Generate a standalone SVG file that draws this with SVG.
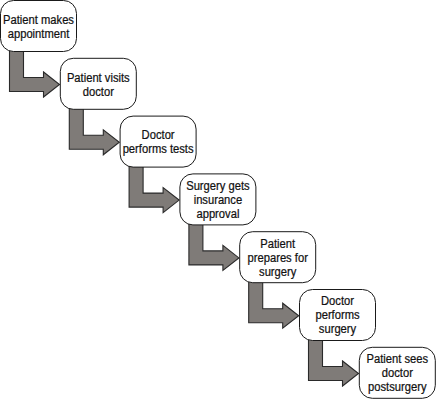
<svg xmlns="http://www.w3.org/2000/svg" width="436" height="400" viewBox="0 0 436 400">
<style>
.box{fill:#fff;stroke:#1a1a1a;stroke-width:1}
.arr{fill:#7f7b78;stroke:#2a2a2a;stroke-width:1.1;stroke-linejoin:miter}
text{font-family:"Liberation Sans",Arial,sans-serif;font-size:13.5px;fill:#111;stroke:#111;stroke-width:0.25;text-anchor:middle}
</style>
<defs>
<path id="bent" d="M9,50 H23 V77 H43 V71.5 L59,84 L43,96.5 V91 H9 Z"/>
</defs>
<rect width="436" height="400" fill="#fff"/>
<g id="connectors">
<use href="#bent" class="arr" x="0.5" y="0.5"/>
<use href="#bent" class="arr" x="60.3" y="58.3"/>
<use href="#bent" class="arr" x="120.1" y="116.1"/>
<use href="#bent" class="arr" x="179.9" y="173.9"/>
<use href="#bent" class="arr" x="239.7" y="231.7"/>
<use href="#bent" class="arr" x="299.5" y="289.5"/>
</g>
<g id="n1"><rect class="box" x="0.5" y="0.5" width="76" height="51" rx="13"/><g transform="translate(38.5 0) scale(0.83 1)"><text x="0" y="23.8">Patient makes</text><text x="0" y="37.8">appointment</text></g></g>
<g id="n2"><rect class="box" x="60.3" y="58.3" width="76" height="51" rx="13"/><g transform="translate(98.3 0) scale(0.83 1)"><text x="0" y="81.6">Patient visits</text><text x="0" y="95.6">doctor</text></g></g>
<g id="n3"><rect class="box" x="120.1" y="116.1" width="76" height="51" rx="13"/><g transform="translate(158.1 0) scale(0.83 1)"><text x="0" y="139.4">Doctor</text><text x="0" y="153.4">performs tests</text></g></g>
<g id="n4"><rect class="box" x="179.9" y="173.9" width="76" height="51" rx="13"/><g transform="translate(217.9 0) scale(0.83 1)"><text x="0" y="189.9">Surgery gets</text><text x="0" y="203.9">insurance</text><text x="0" y="217.9">approval</text></g></g>
<g id="n5"><rect class="box" x="239.7" y="231.7" width="76" height="51" rx="13"/><g transform="translate(277.7 0) scale(0.83 1)"><text x="0" y="247.7">Patient</text><text x="0" y="261.7">prepares for</text><text x="0" y="275.7">surgery</text></g></g>
<g id="n6"><rect class="box" x="299.5" y="289.5" width="76" height="51" rx="13"/><g transform="translate(337.5 0) scale(0.83 1)"><text x="0" y="305.5">Doctor</text><text x="0" y="319.5">performs</text><text x="0" y="333.5">surgery</text></g></g>
<g id="n7"><rect class="box" x="359.3" y="347.3" width="76" height="51" rx="13"/><g transform="translate(397.3 0) scale(0.83 1)"><text x="0" y="363.3">Patient sees</text><text x="0" y="377.3">doctor</text><text x="0" y="391.3">postsurgery</text></g></g>
</svg>
